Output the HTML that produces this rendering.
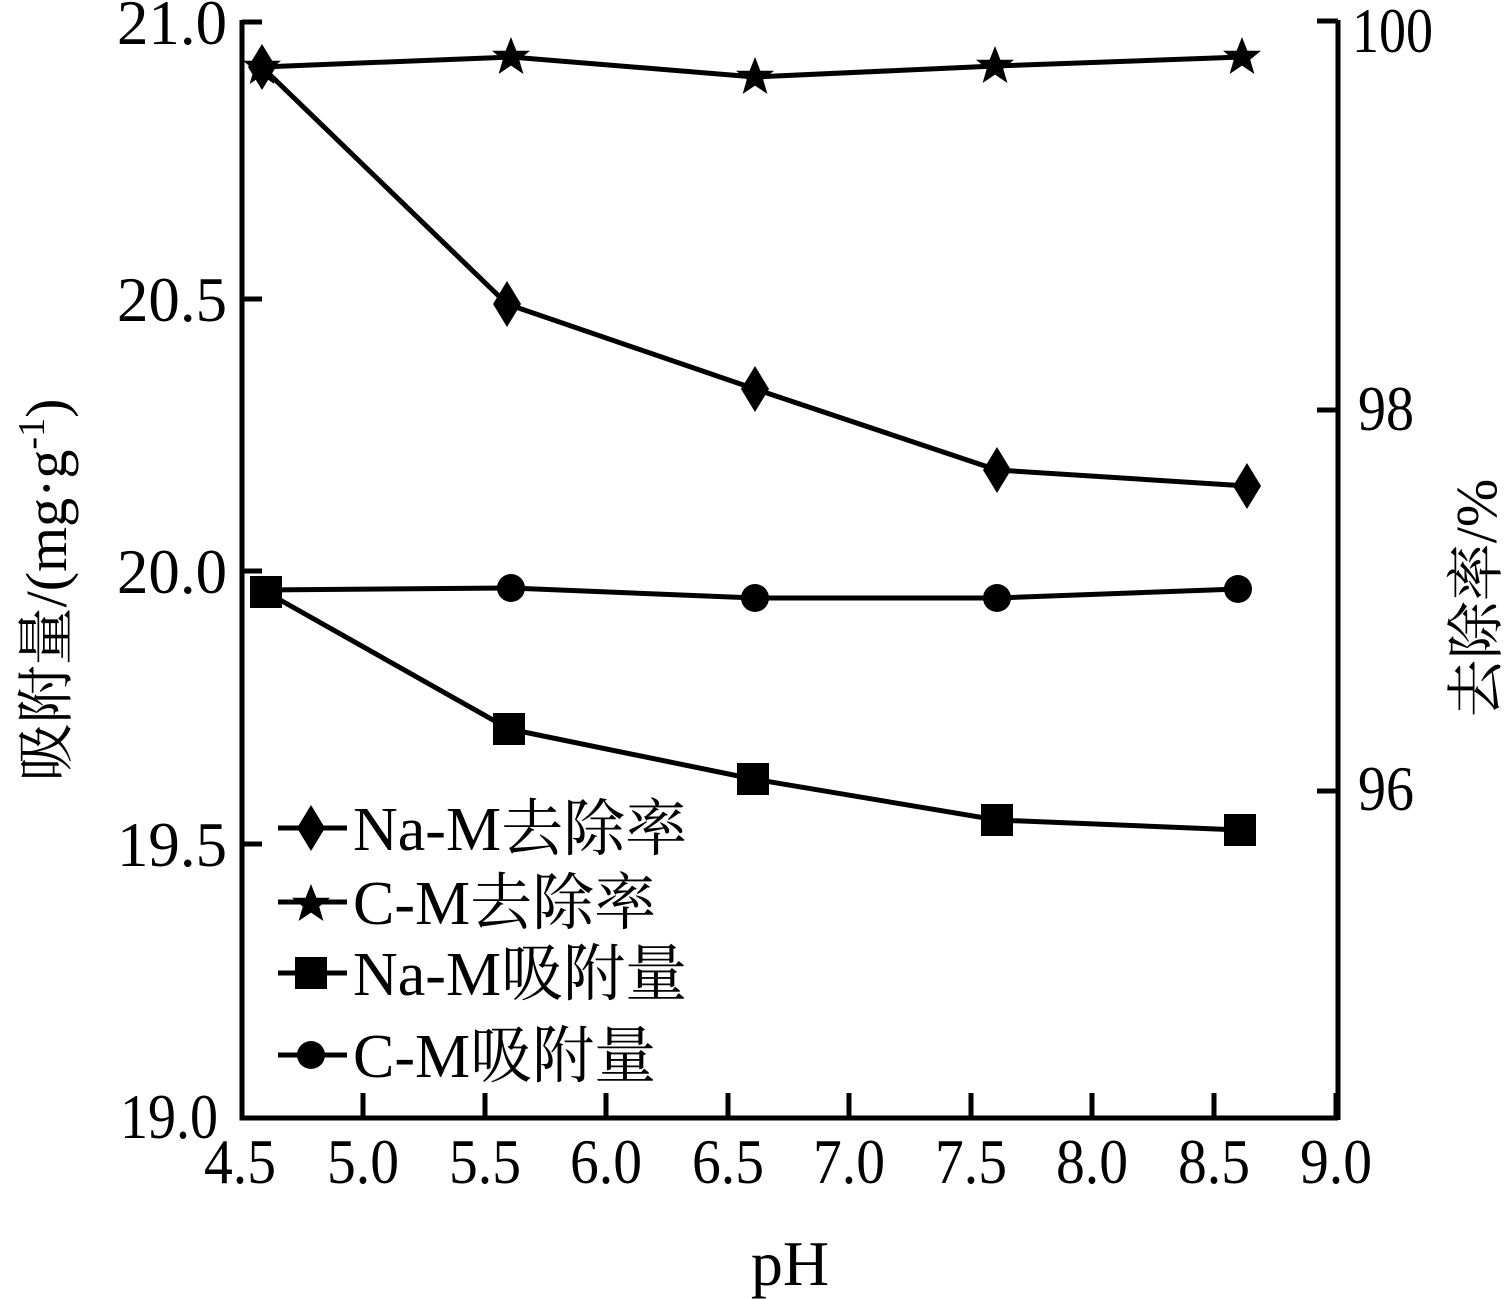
<!DOCTYPE html>
<html><head><meta charset="utf-8"><style>html,body{margin:0;padding:0;background:#fff}svg{display:block}</style></head>
<body>
<svg width="1512" height="1299" viewBox="0 0 1512 1299" xmlns="http://www.w3.org/2000/svg" font-family="'Liberation Serif','Noto Serif CJK SC',serif" fill="#000">
<defs>
<path id="dia" d="M0,-23 L14,0 L0,23 L-14,0Z"/>
<path id="star" d="M0,-20 L5.4,-6.2 L19,-6.2 L8.2,2.6 L12.4,17 L0,8.6 L-12.4,17 L-8.2,2.6 L-19,-6.2 L-5.4,-6.2Z"/>
<rect id="sq" x="-16" y="-16" width="32" height="32"/>
<circle id="cir" r="14"/>
</defs>
<g stroke="#000" stroke-width="5" fill="none">
<polyline points="242,20 242,1118 1338,1118"/>
<line x1="1338" y1="20" x2="1338" y2="1120"/>
<line x1="242" y1="22" x2="262" y2="22"/><line x1="242" y1="299" x2="262" y2="299"/><line x1="242" y1="571" x2="262" y2="571"/><line x1="242" y1="844" x2="262" y2="844"/>
<line x1="1317" y1="21" x2="1338" y2="21"/><line x1="1317" y1="410" x2="1338" y2="410"/><line x1="1317" y1="791" x2="1338" y2="791"/>
<line x1="363" y1="1093" x2="363" y2="1118"/><line x1="485" y1="1093" x2="485" y2="1118"/><line x1="606" y1="1093" x2="606" y2="1118"/><line x1="728" y1="1093" x2="728" y2="1118"/><line x1="849" y1="1093" x2="849" y2="1118"/><line x1="971" y1="1093" x2="971" y2="1118"/><line x1="1092" y1="1093" x2="1092" y2="1118"/><line x1="1214" y1="1093" x2="1214" y2="1118"/><line x1="1336" y1="1093" x2="1336" y2="1118"/>
<polyline points="262,67 511,57 755,77 995,66 1242,57"/>
<polyline points="262,67 507,304 755,389 997,470 1247,486"/>
<polyline points="262,590 511,588 755,598 997,598 1238,589"/>
<polyline points="266,592 509,729 753,779 997,820 1240,830"/>
<line x1="278" y1="828" x2="347" y2="828"/><line x1="278" y1="902" x2="347" y2="902"/><line x1="278" y1="973" x2="347" y2="973"/><line x1="278" y1="1055" x2="347" y2="1055"/>
</g>
<use href="#dia" x="262" y="67"/><use href="#dia" x="507" y="304"/><use href="#dia" x="755" y="389"/><use href="#dia" x="997" y="470"/><use href="#dia" x="1247" y="486"/>
<use href="#star" x="262" y="67"/><use href="#star" x="511" y="57"/><use href="#star" x="755" y="77"/><use href="#star" x="995" y="66"/><use href="#star" x="1242" y="57"/>
<use href="#cir" x="511" y="588"/><use href="#cir" x="755" y="598"/><use href="#cir" x="997" y="598"/><use href="#cir" x="1238" y="589"/>
<use href="#sq" x="266" y="592"/><use href="#sq" x="509" y="729"/><use href="#sq" x="753" y="779"/><use href="#sq" x="997" y="820"/><use href="#sq" x="1240" y="830"/>
<use href="#dia" x="311" y="828"/><use href="#star" x="311" y="904"/><use href="#sq" x="311" y="973"/><use href="#cir" x="311" y="1055"/>
<g font-size="62">
<text x="353" y="850">Na-M去除率</text>
<text x="353" y="924">C-M去除率</text>
<text x="353" y="995">Na-M吸附量</text>
<text x="353" y="1077">C-M吸附量</text>
</g>
<g font-size="64" text-anchor="end">
<text x="227" y="44" textLength="110" lengthAdjust="spacingAndGlyphs">21.0</text>
<text x="227" y="321" textLength="110" lengthAdjust="spacingAndGlyphs">20.5</text>
<text x="227" y="593" textLength="110" lengthAdjust="spacingAndGlyphs">20.0</text>
<text x="227" y="866" textLength="110" lengthAdjust="spacingAndGlyphs">19.5</text>
<text x="218" y="1138" textLength="98" lengthAdjust="spacingAndGlyphs">19.0</text>
</g>
<g font-size="64">
<text x="1352" y="52" textLength="81" lengthAdjust="spacingAndGlyphs">100</text>
<text x="1358" y="430" textLength="56" lengthAdjust="spacingAndGlyphs">98</text>
<text x="1358" y="810" textLength="56" lengthAdjust="spacingAndGlyphs">96</text>
</g>
<g font-size="64">
<text x="204" y="1183" textLength="72" lengthAdjust="spacingAndGlyphs">4.5</text>
<text x="327" y="1183" textLength="72" lengthAdjust="spacingAndGlyphs">5.0</text>
<text x="449" y="1183" textLength="72" lengthAdjust="spacingAndGlyphs">5.5</text>
<text x="570" y="1183" textLength="72" lengthAdjust="spacingAndGlyphs">6.0</text>
<text x="692" y="1183" textLength="72" lengthAdjust="spacingAndGlyphs">6.5</text>
<text x="813" y="1183" textLength="72" lengthAdjust="spacingAndGlyphs">7.0</text>
<text x="935" y="1183" textLength="72" lengthAdjust="spacingAndGlyphs">7.5</text>
<text x="1056" y="1183" textLength="72" lengthAdjust="spacingAndGlyphs">8.0</text>
<text x="1178" y="1183" textLength="72" lengthAdjust="spacingAndGlyphs">8.5</text>
<text x="1300" y="1183" textLength="72" lengthAdjust="spacingAndGlyphs">9.0</text>
</g>
<text x="790" y="1285" font-size="64" text-anchor="middle">pH</text>
<text transform="translate(66,590) rotate(-90)" font-size="58" text-anchor="middle">吸附量/(mg·g<tspan dy="-22" font-size="38">-1</tspan><tspan dy="22">)</tspan></text>
<text transform="translate(1496,598) rotate(-90)" font-size="58" text-anchor="middle">去除率/%</text>
</svg>
</body></html>
